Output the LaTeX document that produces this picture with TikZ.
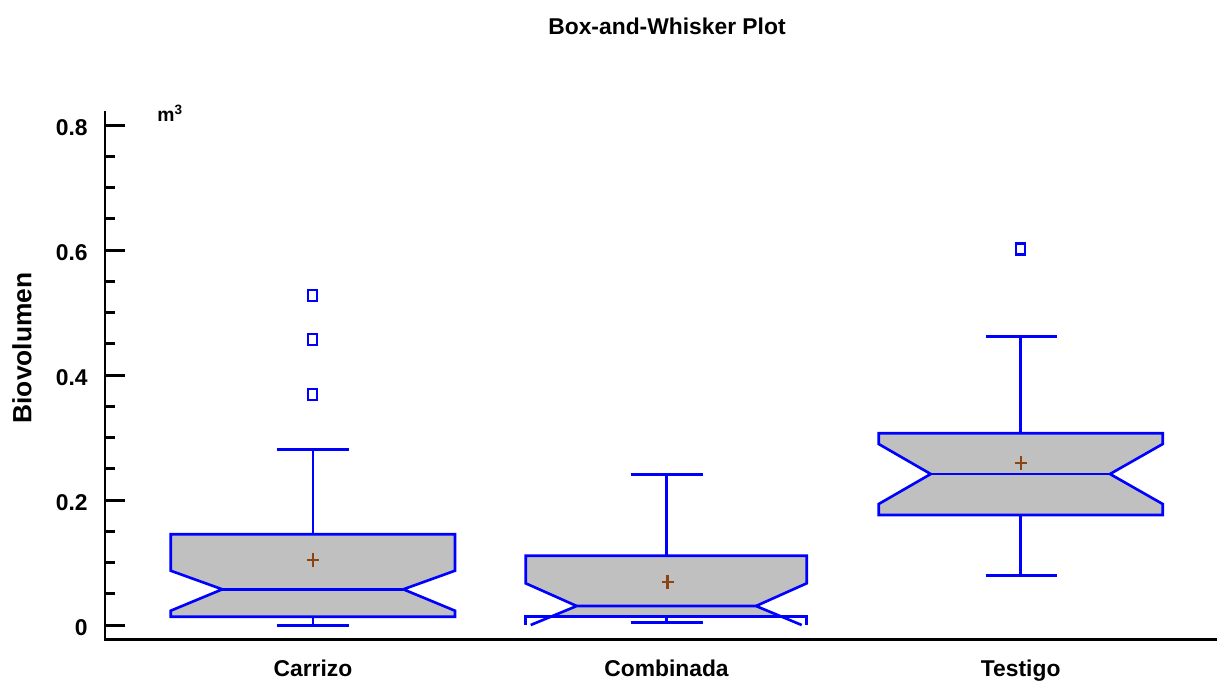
\documentclass[tikz,border=0pt]{standalone}
\usepackage{fontspec}
\setmainfont{Liberation Sans}
\usetikzlibrary{calc}

\definecolor{boxgray}{HTML}{C0C0C0}
\definecolor{plotblue}{HTML}{0000FF}
\definecolor{meanbrown}{HTML}{8B4513}

\tikzset{
    axisline/.style={black, line width=1.7pt},
    ticklab/.style={anchor=east, inner sep=0pt, font=\fontsize{13}{15}\selectfont\bfseries},
    catlab/.style={anchor=base, inner sep=0pt, font=\fontsize{13}{15}\selectfont\bfseries},
    boxline/.style={plotblue, line width=1.5pt, line join=miter},
    boxfill/.style={fill=boxgray},
    meanmark/.style={meanbrown, line width=1.3pt},
    outlier/.style={plotblue, line width=1.45pt}
}

\begin{document}
\begin{tikzpicture}[x=0.02cm, y=-0.02cm]
        \useasboundingbox (0,0) rectangle (1217,681);

        % title and axis names
        \node[font=\fontsize{13}{15}\selectfont\bfseries, inner sep=0pt] (title) at (667,26) {Box-and-Whisker Plot};
        \node[font=\fontsize{15}{17}\selectfont\bfseries, rotate=90, inner sep=0pt] (ylabel) at (22,348) {Biovolumen};
        \node[anchor=base west, inner sep=0pt, font=\fontsize{11}{13}\selectfont\bfseries] (unit) at (157,121) {m\textsuperscript{3}};

        % axes
        \draw[axisline] (105,111) -- (105,639) -- (1217,639);
        \foreach \k in {1,...,15} {
            \draw[axisline] (105,625-31.25*\k) -- (115,625-31.25*\k);
        }
        \foreach \v/\n in {0/0,0.2/1,0.4/2,0.6/3,0.8/4} {
            \draw[axisline] (105,625-125*\n) -- (125,625-125*\n);
            \node[ticklab] (ylab\n) at (88,628-125*\n) {\v};
        }

        % category names
        \node[catlab] (carrizo) at (313,676) {Carrizo};
        \node[catlab] (combinada) at (666.5,676) {Combinada};
        \node[catlab] (testigo) at (1020.7,676) {Testigo};

        % Carrizo
        \fill[boxfill] (170.7,534.3) -- (455,534.3) -- (455,570.7) -- (403.3,589.3) -- (455,610.7) -- (455,616.7)
            -- (170.7,616.7) -- (170.7,610.7) -- (222.3,589.3) -- (170.7,570.7) -- cycle;
        \draw[boxline] (170.7,534.3) -- (455,534.3) -- (455,570.7) -- (403.3,589.3) -- (455,610.7) -- (455,616.7)
            -- (170.7,616.7) -- (170.7,610.7) -- (222.3,589.3) -- (170.7,570.7) -- cycle;
        \draw[boxline] (222.3,589.3) -- (403.3,589.3);
        \draw[boxline] (313,534.3) -- (313,449.3);
        \draw[boxline] (276.7,449.3) -- (348.7,449.3);
        \draw[boxline] (313,616.7) -- (313,625.3);
        \draw[boxline] (276.7,625.3) -- (348.7,625.3);
        \draw[meanmark] (307,560) -- (319,560) (313,553) -- (313,567);
        \foreach \y in {295.7,339.3,394.3} {
            \draw[outlier] (308,\y-5.5) rectangle (317,\y+5.5);
        }

        % Combinada
        \fill[boxfill] (525.7,555.7) -- (806.7,555.7) -- (806.7,583.3) -- (756,606) -- (781.7,616.7)
            -- (550.8,616.7) -- (576.7,606) -- (525.7,583.3) -- cycle;
        \draw[boxline] (576.7,606) -- (525.7,583.3) -- (525.7,555.7) -- (806.7,555.7) -- (806.7,583.3) -- (756,606);
        \draw[boxline] (530.7,625) -- (576.7,606) -- (756,606) -- (801.7,625);
        \draw[boxline] (525.7,625) -- (525.7,616.7) -- (806.7,616.7) -- (806.7,625);
        \draw[boxline] (666.5,555.7) -- (666.5,474.3);
        \draw[boxline] (630.5,474.3) -- (702.5,474.3);
        \draw[boxline] (666.5,616.7) -- (666.5,622.3);
        \draw[boxline] (630.5,622.3) -- (702.5,622.3);
        \draw[meanmark] (661.5,581.7) -- (673.5,581.7) (667.5,574.7) -- (667.5,588.7);

        % Testigo
        \fill[boxfill] (878.7,433.3) -- (1162.7,433.3) -- (1162.7,444) -- (1110,474) -- (1162.7,504) -- (1162.7,515)
            -- (878.7,515) -- (878.7,504) -- (930.7,474) -- (878.7,444) -- cycle;
        \draw[boxline] (878.7,433.3) -- (1162.7,433.3) -- (1162.7,444) -- (1110,474) -- (1162.7,504) -- (1162.7,515)
            -- (878.7,515) -- (878.7,504) -- (930.7,474) -- (878.7,444) -- cycle;
        \draw[boxline] (930.7,474) -- (1110,474);
        \draw[boxline] (1020.7,433.3) -- (1020.7,336.7);
        \draw[boxline] (985.7,336.7) -- (1057.3,336.7);
        \draw[boxline] (1020.7,515) -- (1020.7,575.7);
        \draw[boxline] (985.7,575.7) -- (1057.3,575.7);
        \draw[meanmark] (1015,463.3) -- (1027,463.3) (1021,456.3) -- (1021,470.3);
        \draw[outlier] (1016,243.5) rectangle (1025,254.5);
    \end{tikzpicture}
\end{document}
